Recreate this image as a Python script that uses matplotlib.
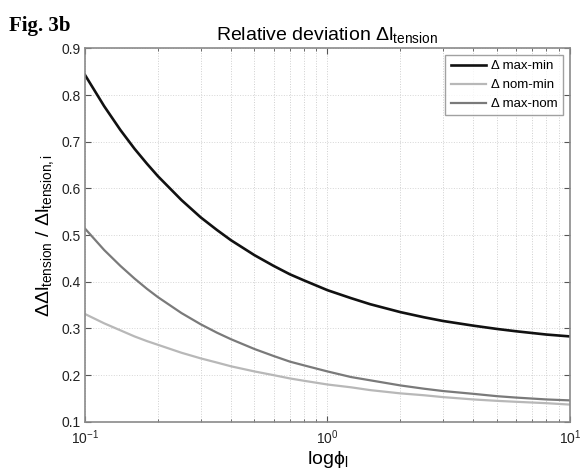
import matplotlib
matplotlib.use("Agg")
import matplotlib.pyplot as plt
from matplotlib.ticker import LogLocator, NullFormatter

plt.rcParams["font.family"] = ["Liberation Sans", "DejaVu Sans"]
plt.rcParams["mathtext.fontset"] = "custom"
plt.rcParams["mathtext.rm"] = "Liberation Sans"
plt.rcParams["mathtext.it"] = "Liberation Sans:italic"
plt.rcParams["mathtext.bf"] = "Liberation Sans:bold"

# values
phi = [0.1, 0.12, 0.14, 0.16, 0.18, 0.2, 0.25, 0.3, 0.35, 0.4, 0.5, 0.6,
       0.7, 0.8, 1.0, 1.25, 1.5, 2, 2.5, 3, 4, 5, 6, 8, 10]
max_min = [0.843, 0.776, 0.725, 0.685, 0.653, 0.626, 0.575, 0.538, 0.511,
           0.489, 0.457, 0.434, 0.416, 0.403, 0.382, 0.365, 0.352, 0.335,
           0.324, 0.316, 0.306, 0.299, 0.294, 0.287, 0.283]
nom_min = [0.331, 0.311, 0.296, 0.283, 0.273, 0.265, 0.248, 0.236, 0.227,
           0.219, 0.208, 0.200, 0.193, 0.188, 0.180, 0.174, 0.168, 0.161,
           0.157, 0.153, 0.148, 0.145, 0.143, 0.140, 0.137]
max_nom = [0.514, 0.468, 0.434, 0.407, 0.385, 0.367, 0.333, 0.309, 0.291,
           0.277, 0.256, 0.241, 0.229, 0.221, 0.208, 0.196, 0.189, 0.178,
           0.171, 0.166, 0.160, 0.155, 0.152, 0.148, 0.146]

series_labels = ["\u0394 max-min", "\u0394 nom-min", "\u0394 max-nom"]
y_ticks = [0.1, 0.2, 0.3, 0.4, 0.5, 0.6, 0.7, 0.8, 0.9]

fig = plt.figure(figsize=(5.85, 4.74), dpi=100)
ax = fig.add_axes([0.1453, 0.110, 0.829, 0.788])

ax.plot(phi, max_min, color="#111111", linewidth=1.9, label=series_labels[0])
ax.plot(phi, nom_min, color="#b8b8b8", linewidth=1.6, label=series_labels[1])
ax.plot(phi, max_nom, color="#7a7a7a", linewidth=1.6, label=series_labels[2])

ax.set_xscale("log")
ax.set_xlim(0.1, 10)
ax.set_ylim(0.1, 0.9)
ax.set_yticks(y_ticks)
ax.set_yticklabels([f"{v:.1f}" for v in y_ticks])
ax.xaxis.set_minor_locator(LogLocator(base=10, subs=range(2, 10)))
ax.xaxis.set_minor_formatter(NullFormatter())

ax.grid(which="major", axis="y", linestyle=":", color="#d6d6d6", linewidth=0.7)
ax.grid(which="both", axis="x", linestyle=":", color="#cfcfcf", linewidth=0.7)

for spine in ax.spines.values():
    spine.set_color("#8a8a8a")
    spine.set_linewidth(1.2)

ax.tick_params(which="both", direction="in", top=True, right=True,
               colors="#555555", labelcolor="#222222", labelsize=10)
ax.tick_params(which="major", length=4)
ax.tick_params(which="minor", length=2.5)
ax.tick_params(axis="y", pad=3)
ax.tick_params(axis="x", pad=5)

ax.set_title(r"Relative deviation $\mathregular{\Delta l_{tension}}$",
             fontsize=14, pad=6)
ax.set_xlabel(r"$\mathregular{log\phi_l}$", fontsize=14, labelpad=1)
ax.set_ylabel(r"$\mathregular{\Delta\Delta l_{tension}\ /\ \Delta l_{tension,i}}$",
              fontsize=14, labelpad=4)

leg = ax.legend(loc="upper right", fontsize=9.5, frameon=True, fancybox=False,
                edgecolor="#8a8a8a", handlelength=2.7, handletextpad=0.4,
                borderaxespad=0.5, labelspacing=0.5)
leg.get_frame().set_linewidth(1.0)

fig.text(0.015, 0.935, "Fig. 3b", fontsize=15, fontweight="bold",
         family=["Liberation Serif", "DejaVu Serif"])

fig.savefig("out.png", dpi=100)
plt.close(fig)
